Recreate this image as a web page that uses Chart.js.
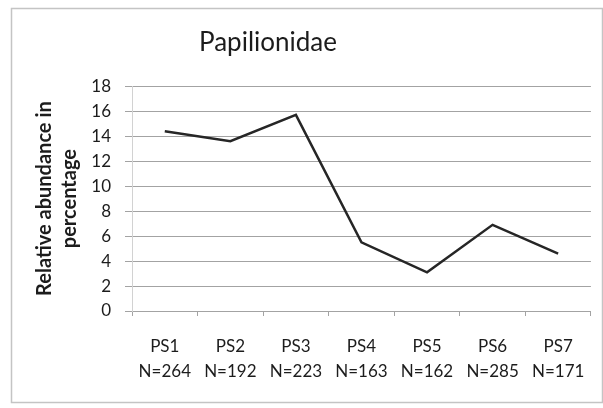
<!DOCTYPE html>
<html>
<head>
<meta charset="utf-8">
<script src="https://cdn.jsdelivr.net/npm/chart.js@4"></script>
<style>
  html, body { margin: 0; padding: 0; background: #ffffff; }
  #wrap { width: 603px; height: 408px; }
</style>
</head>
<body>
<div id="wrap"><canvas id="c" width="603" height="408"></canvas></div>
<script>
// Sampling sites and sample sizes
const sites = ['PS1', 'PS2', 'PS3', 'PS4', 'PS5', 'PS6', 'PS7'];
const sampleSizes = ['N=264', 'N=192', 'N=223', 'N=163', 'N=162', 'N=285', 'N=171'];
// Relative abundance of Papilionidae (%) at each site
const abundance = [14.4, 13.6, 15.7, 5.5, 3.1, 6.9, 4.6];
const yTicks = [0, 2, 4, 6, 8, 10, 12, 14, 16, 18];

const labels = sites.map((s, i) => [s, sampleSizes[i]]);

const FONT = 'Lato, "Liberation Sans", sans-serif';
const TEXT = '#1c1c1c';
const GRID = '#a3a3a3';

// Light frame round the whole chart
const frame = {
  id: 'frame',
  beforeDraw(chart) {
    const ctx = chart.ctx;
    ctx.save();
    ctx.fillStyle = '#ffffff';
    ctx.fillRect(0, 0, chart.width, chart.height);
    ctx.strokeStyle = '#c4c4c4';
    ctx.lineWidth = 1.5;
    ctx.strokeRect(11.5, 8.5, 591, 394);
    ctx.restore();
  }
};

// Centre the title over the left part of the chart
const titlePlace = {
  id: 'titlePlace',
  afterLayout(chart) {
    const t = chart.titleBlock;
    if (t) { t.left = 11; t.right = 525; }
  }
};

new Chart(document.getElementById('c'), {
  type: 'line',
  data: {
    labels: labels,
    datasets: [{
      data: abundance,
      borderColor: '#262626',
      borderWidth: 2.5,
      pointRadius: 0,
      tension: 0,
      fill: false
    }]
  },
  options: {
    responsive: false,
    devicePixelRatio: 1,
    animation: false,
    layout: { padding: { top: 8, left: 11, right: 9, bottom: 0 } },
    plugins: {
      legend: { display: false },
      tooltip: { enabled: false },
      title: {
        display: true,
        text: 'Papilionidae',
        color: TEXT,
        font: { family: FONT, size: 26, weight: 'normal', lineHeight: 1.2 },
        padding: { top: 19, bottom: 28 }
      }
    },
    scales: {
      x: {
        offset: true,
        grid: {
          offset: true,
          drawOnChartArea: false,
          drawTicks: true,
          tickLength: 5,
          color: GRID
        },
        border: { display: true, color: GRID, width: 1 },
        ticks: {
          color: TEXT,
          padding: 18,
          maxRotation: 0,
          autoSkip: false,
          font: { family: FONT, size: 17, lineHeight: 25 / 17 }
        },
        afterFit(scale) { scale.height = 97; }
      },
      y: {
        min: 0,
        max: 18,
        afterBuildTicks(scale) { scale.ticks = yTicks.map(v => ({ value: v })); },
        grid: {
          color: GRID,
          lineWidth: 1,
          drawTicks: true,
          tickLength: 7
        },
        border: { display: true, color: '#d2d2d2', width: 1 },
        ticks: {
          color: TEXT,
          padding: 14,
          font: { family: FONT, size: 17 }
        },
        title: {
          display: true,
          text: ['Relative abundance in', 'percentage'],
          color: TEXT,
          font: { family: FONT, size: 20, weight: 'bold', lineHeight: 25 / 20 },
          padding: { top: 21, bottom: 0 }
        },
        afterFit(scale) { scale.width = 121; }
      }
    }
  },
  plugins: [frame, titlePlace]
});
</script>
</body>
</html>
